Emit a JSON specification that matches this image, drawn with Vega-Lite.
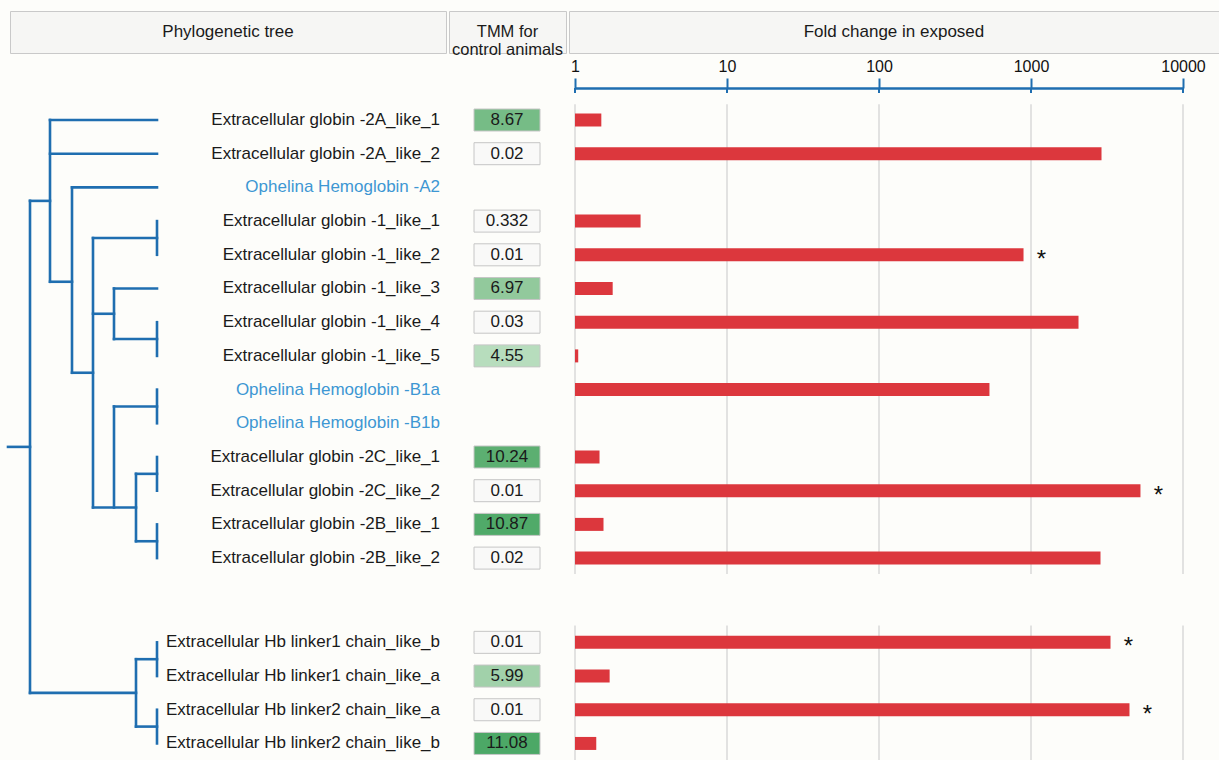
{
  "$schema": "https://vega.github.io/schema/vega-lite/v6.json",
  "background": "#fdfdfa",
  "padding": {"left": 0, "top": 10, "right": 0, "bottom": 0},
  "config": {"view": {"stroke": null}, "font": "Liberation Sans"},
  "datasets": {
    "genes": [
      {"gene": "Extracellular globin -2A_like_1", "row": 0, "kind": "gene", "tmm": 8.67, "fold": 1.49, "sig": false},
      {"gene": "Extracellular globin -2A_like_2", "row": 1, "kind": "gene", "tmm": 0.02, "fold": 2910, "sig": false},
      {"gene": "Ophelina Hemoglobin -A2", "row": 2, "kind": "ophelina", "tmm": null, "fold": null, "sig": false},
      {"gene": "Extracellular globin -1_like_1", "row": 3, "kind": "gene", "tmm": 0.332, "fold": 2.7, "sig": false},
      {"gene": "Extracellular globin -1_like_2", "row": 4, "kind": "gene", "tmm": 0.01, "fold": 893, "sig": true},
      {"gene": "Extracellular globin -1_like_3", "row": 5, "kind": "gene", "tmm": 6.97, "fold": 1.77, "sig": false},
      {"gene": "Extracellular globin -1_like_4", "row": 6, "kind": "gene", "tmm": 0.03, "fold": 2054, "sig": false},
      {"gene": "Extracellular globin -1_like_5", "row": 7, "kind": "gene", "tmm": 4.55, "fold": 1.05, "sig": false},
      {"gene": "Ophelina Hemoglobin -B1a", "row": 8, "kind": "ophelina", "tmm": null, "fold": 533, "sig": false},
      {"gene": "Ophelina Hemoglobin -B1b", "row": 9, "kind": "ophelina", "tmm": null, "fold": null, "sig": false},
      {"gene": "Extracellular globin -2C_like_1", "row": 10, "kind": "gene", "tmm": 10.24, "fold": 1.45, "sig": false},
      {"gene": "Extracellular globin -2C_like_2", "row": 11, "kind": "gene", "tmm": 0.01, "fold": 5250, "sig": true},
      {"gene": "Extracellular globin -2B_like_1", "row": 12, "kind": "gene", "tmm": 10.87, "fold": 1.54, "sig": false},
      {"gene": "Extracellular globin -2B_like_2", "row": 13, "kind": "gene", "tmm": 0.02, "fold": 2866, "sig": false},
      {"gene": "Extracellular Hb linker1 chain_like_b", "row": 15.5, "kind": "gene", "tmm": 0.01, "fold": 3335, "sig": true},
      {"gene": "Extracellular Hb linker1 chain_like_a", "row": 16.5, "kind": "gene", "tmm": 5.99, "fold": 1.69, "sig": false},
      {"gene": "Extracellular Hb linker2 chain_like_a", "row": 17.5, "kind": "gene", "tmm": 0.01, "fold": 4446, "sig": true},
      {"gene": "Extracellular Hb linker2 chain_like_b", "row": 18.5, "kind": "gene", "tmm": 11.08, "fold": 1.38, "sig": false}
    ],
    "tree": [
      {"x1": 43, "x2": 150, "y1": 0, "y2": 0},
      {"x1": 43, "x2": 150, "y1": 1, "y2": 1},
      {"x1": 43, "x2": 43, "y1": 0, "y2": 4.8},
      {"x1": 23, "x2": 43, "y1": 2.4, "y2": 2.4},
      {"x1": 43, "x2": 65, "y1": 4.8, "y2": 4.8},
      {"x1": 65, "x2": 65, "y1": 2, "y2": 7.5},
      {"x1": 65, "x2": 150, "y1": 2, "y2": 2},
      {"x1": 65, "x2": 86, "y1": 7.5, "y2": 7.5},
      {"x1": 86, "x2": 86, "y1": 3.5, "y2": 11.5},
      {"x1": 86, "x2": 150, "y1": 3.5, "y2": 3.5},
      {"x1": 150, "x2": 150, "y1": 3, "y2": 4},
      {"x1": 86, "x2": 107, "y1": 5.75, "y2": 5.75},
      {"x1": 107, "x2": 107, "y1": 5, "y2": 6.5},
      {"x1": 107, "x2": 150, "y1": 5, "y2": 5},
      {"x1": 107, "x2": 150, "y1": 6.5, "y2": 6.5},
      {"x1": 150, "x2": 150, "y1": 6, "y2": 7},
      {"x1": 86, "x2": 129, "y1": 11.5, "y2": 11.5},
      {"x1": 107, "x2": 107, "y1": 8.5, "y2": 11.5},
      {"x1": 107, "x2": 150, "y1": 8.5, "y2": 8.5},
      {"x1": 150, "x2": 150, "y1": 8, "y2": 9},
      {"x1": 129, "x2": 129, "y1": 10.5, "y2": 12.5},
      {"x1": 129, "x2": 150, "y1": 10.5, "y2": 10.5},
      {"x1": 150, "x2": 150, "y1": 10, "y2": 11},
      {"x1": 129, "x2": 150, "y1": 12.5, "y2": 12.5},
      {"x1": 150, "x2": 150, "y1": 12, "y2": 13},
      {"x1": 1, "x2": 23, "y1": 9.7, "y2": 9.7},
      {"x1": 23, "x2": 23, "y1": 2.4, "y2": 17},
      {"x1": 23, "x2": 129, "y1": 17, "y2": 17},
      {"x1": 129, "x2": 129, "y1": 16, "y2": 18},
      {"x1": 129, "x2": 150, "y1": 16, "y2": 16},
      {"x1": 150, "x2": 150, "y1": 15.5, "y2": 16.5},
      {"x1": 129, "x2": 150, "y1": 18, "y2": 18},
      {"x1": 150, "x2": 150, "y1": 17.5, "y2": 18.5}
    ],
    "ticks": [{"v": 1}, {"v": 10}, {"v": 100}, {"v": 1000}, {"v": 10000}]
  },
  "vconcat": [
    {
      "hconcat": [
        {"width": 7, "height": 42, "data": {"values": [{}]}, "mark": {"type": "text"}, "encoding": {"text": {"value": ""}}},
        {"width": 436, "height": 42, "view": {"fill": "#f6f6f4", "stroke": "#c9c9c9"}, "data": {"values": [{}]},
         "mark": {"type": "text", "fontSize": 17, "color": "#1a1a1a", "baseline": "middle"},
         "encoding": {"text": {"value": "Phylogenetic tree"}}},
        {"width": 117, "height": 42, "view": {"fill": "#f6f6f4", "stroke": "#c9c9c9"}, "data": {"values": [{}]},
         "mark": {"type": "text", "fontSize": 16.5, "color": "#1a1a1a", "baseline": "middle", "lineHeight": 18},
         "encoding": {"text": {"value": ["TMM for", "control animals"]}}},
        {"width": 650, "height": 42, "view": {"fill": "#f6f6f4", "stroke": "#c9c9c9"}, "data": {"values": [{}]},
         "mark": {"type": "text", "fontSize": 17, "color": "#1a1a1a", "baseline": "middle"},
         "encoding": {"text": {"value": "Fold change in exposed"}}}
      ],
      "spacing": 3,
      "bounds": "flush"
    },
    {
      "width": 1219,
      "height": 673,
      "layer": [
        {
          "layer": [
            {
              "data": {"name": "tree"},
              "mark": {"type": "rule", "color": "#1f6eb0", "strokeWidth": 2.6, "strokeCap": "square"},
              "encoding": {
                "x": {"field": "x1", "type": "quantitative", "scale": {"domain": [0, 150], "range": [7, 157], "nice": false, "zero": false}, "axis": null},
                "x2": {"field": "x2"},
                "y": {"field": "y1", "type": "quantitative", "scale": {"domain": [-0.9496, 19.021], "reverse": true, "nice": false, "zero": false, "padding": 0}, "axis": null},
                "y2": {"field": "y2"}
              }
            },
            {
              "data": {"name": "genes"},
              "mark": {"type": "text", "align": "right", "baseline": "middle", "fontSize": 17},
              "encoding": {
                "x": {"datum": 433, "type": "quantitative"},
                "y": {"field": "row", "type": "quantitative"},
                "text": {"field": "gene"},
                "color": {"field": "kind", "type": "nominal", "scale": {"domain": ["gene", "ophelina"], "range": ["#1a1a1a", "#3d97d3"]}, "legend": null}
              }
            }
          ]
        },
        {
          "data": {"name": "genes"},
          "transform": [{"filter": "datum.tmm != null"}],
          "layer": [
            {
              "mark": {"type": "rect", "height": 22, "stroke": "#c6c6c6", "strokeWidth": 1},
              "encoding": {
                "x": {"datum": 0, "type": "quantitative", "scale": {"domain": [0, 1], "range": [474, 540], "nice": false}, "axis": null},
                "x2": {"datum": 1},
                "y": {"field": "row", "type": "quantitative"},
                "fill": {"field": "tmm", "type": "quantitative", "scale": {"type": "linear", "domain": [0, 1, 4.5, 11.1], "range": ["#f9f9f8", "#f9f9f8", "#b8ddbe", "#4ca866"]}, "legend": null}
              }
            },
            {
              "mark": {"type": "text", "fontSize": 17, "color": "#1a1a1a", "baseline": "middle", "align": "center"},
              "encoding": {
                "x": {"datum": 0.5, "type": "quantitative"},
                "y": {"field": "row", "type": "quantitative"},
                "text": {"field": "tmm", "type": "nominal"}
              }
            }
          ]
        },
        {
          "layer": [
            {
              "data": {"name": "ticks"},
              "mark": {"type": "rule", "color": "#d9d9d9", "strokeWidth": 1.5},
              "encoding": {
                "x": {"field": "v", "type": "quantitative", "scale": {"type": "log", "domain": [1, 10000], "range": [575, 1183], "nice": false}},
                "y": {"datum": -0.47, "type": "quantitative"},
                "y2": {"datum": 13.47}
              }
            },
            {
              "data": {"name": "ticks"},
              "mark": {"type": "rule", "color": "#d9d9d9", "strokeWidth": 1.5},
              "encoding": {
                "x": {"field": "v", "type": "quantitative"},
                "y": {"datum": 15.0, "type": "quantitative"},
                "y2": {"datum": 19.02}
              }
            },
            {
              "data": {"name": "ticks"},
              "mark": {"type": "rule", "color": "#1f6eb0", "strokeWidth": 2},
              "encoding": {
                "x": {"field": "v", "type": "quantitative"},
                "y": {"datum": -0.95, "type": "quantitative"},
                "y2": {"datum": -0.8}
              }
            },
            {
              "data": {"name": "genes"},
              "transform": [{"filter": "datum.fold != null"}],
              "mark": {"type": "bar", "orient": "horizontal", "size": 13, "color": "#dc373d"},
              "encoding": {
                "x": {"field": "fold", "type": "quantitative",
                      "axis": {"orient": "top", "values": [1, 10, 100, 1000, 10000], "format": "d", "title": null, "grid": false,
                               "domainColor": "#1f6eb0", "domainWidth": 2.5, "tickColor": "#1f6eb0", "tickWidth": 2, "tickSize": 10,
                               "labelFontSize": 16, "labelColor": "#111111", "labelFont": "Liberation Sans", "labelPadding": 4, "labelFlush": false}},
                "x2": {"datum": 1},
                "y": {"field": "row", "type": "quantitative"}
              }
            },
            {
              "data": {"name": "genes"},
              "transform": [{"filter": "datum.sig"}],
              "mark": {"type": "text", "fontSize": 24, "color": "#111111", "align": "center", "baseline": "middle", "dx": 18, "dy": 5},
              "encoding": {
                "x": {"field": "fold", "type": "quantitative"},
                "y": {"field": "row", "type": "quantitative"},
                "text": {"value": "*"}
              }
            }
          ]
        }
      ],
      "resolve": {"scale": {"x": "independent"}}
    }
  ],
  "spacing": 77,
  "bounds": "flush"
}
